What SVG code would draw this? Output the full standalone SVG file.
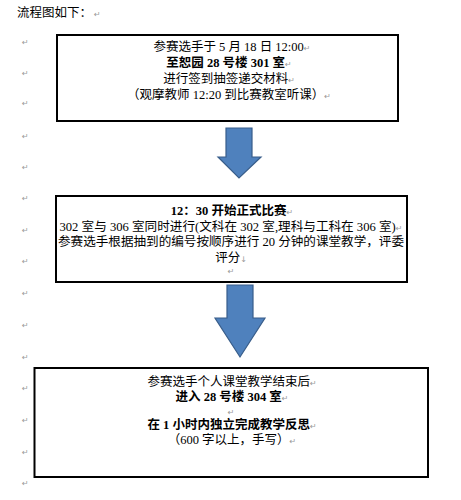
<svg xmlns="http://www.w3.org/2000/svg" width="461" height="500" viewBox="0 0 461 500">
<style>
.t{font-family:"Liberation Serif","Noto Sans CJK SC",serif;font-size:12.5px;fill:#000;text-anchor:middle}
.b{font-weight:bold}
.h{font-family:"Noto Sans CJK SC",sans-serif;font-size:12.5px;fill:#000}
.m{font-family:"DejaVu Sans",sans-serif;font-size:8px;fill:#999;font-weight:normal}
.box{fill:#fff;stroke:#000;stroke-width:2}
.arr{fill:#4F81BD;stroke:#385D8A;stroke-width:1.2}
</style>
<rect width="461" height="500" fill="#fff"/>
<text class="h" x="17" y="17">流程图如下：<tspan class="m" dx="2">↵</tspan></text>
<g id="margin-marks" class="m">
<text class="m" x="22" y="45">↵</text>
<text class="m" x="22" y="76">↵</text>
<text class="m" x="22" y="106">↵</text>
<text class="m" x="22" y="139">↵</text>
<text class="m" x="22" y="170">↵</text>
<text class="m" x="22" y="201">↵</text>
<text class="m" x="22" y="233">↵</text>
<text class="m" x="22" y="264">↵</text>
<text class="m" x="22" y="296">↵</text>
<text class="m" x="22" y="328">↵</text>
<text class="m" x="22" y="360">↵</text>
<text class="m" x="22" y="391">↵</text>
<text class="m" x="22" y="423">↵</text>
<text class="m" x="22" y="455">↵</text>
<text class="m" x="22" y="486">↵</text>
</g>
<g id="node1">
<rect class="box" x="57" y="35" width="341" height="86"/>
<text class="t" x="232" y="51">参赛选手于 5 月 18 日 12:00<tspan class="m">↵</tspan></text>
<text class="t b" x="229" y="67">至恕园 28 号楼 301 室<tspan class="m">↵</tspan></text>
<text class="t" x="229" y="83">进行签到抽签递交材料<tspan class="m">↵</tspan></text>
<text class="t" x="229" y="99">（观摩教师 12:20 到比赛教室听课）<tspan class="m">↵</tspan></text>
</g>
<g id="node2">
<rect class="box" x="56" y="196" width="351" height="86"/>
<text class="t b" x="232" y="215">12：30 开始正式比赛<tspan class="m">↵</tspan></text>
<text class="t" x="231" y="231" textLength="343" lengthAdjust="spacingAndGlyphs">302 室与 306 室同时进行(文科在 302 室,理科与工科在 306 室)<tspan class="m">↵</tspan></text>
<text class="t" x="231" y="246" textLength="346" lengthAdjust="spacingAndGlyphs">参赛选手根据抽到的编号按顺序进行 20 分钟的课堂教学，评委</text>
<text class="t" x="231" y="262">评分<tspan class="m">↓</tspan></text>
<text class="t m" x="231" y="274">↵</text>
</g>
<g id="node3">
<rect class="box" x="34.5" y="368" width="393.5" height="109"/>
<text class="t" x="232" y="386">参赛选手个人课堂教学结束后<tspan class="m">↵</tspan></text>
<text class="t b" x="232" y="401">进入 28 号楼 304 室<tspan class="m">↵</tspan></text>
<text class="t m" x="231" y="415">↵</text>
<text class="t b" x="232" y="429">在 1 小时内独立完成教学反思<tspan class="m">↵</tspan></text>
<text class="t" x="232" y="444">（600 字以上，手写）<tspan class="m">↵</tspan></text>
</g>
<g id="connectors">
<polygon class="arr" points="226,128 252,128 252,157 261,157 239,178 218,157 226,157"/>
<polygon class="arr" points="227,285 253,285 253,318 265,318 240,357 215,318 227,318"/>
</g>
</svg>
